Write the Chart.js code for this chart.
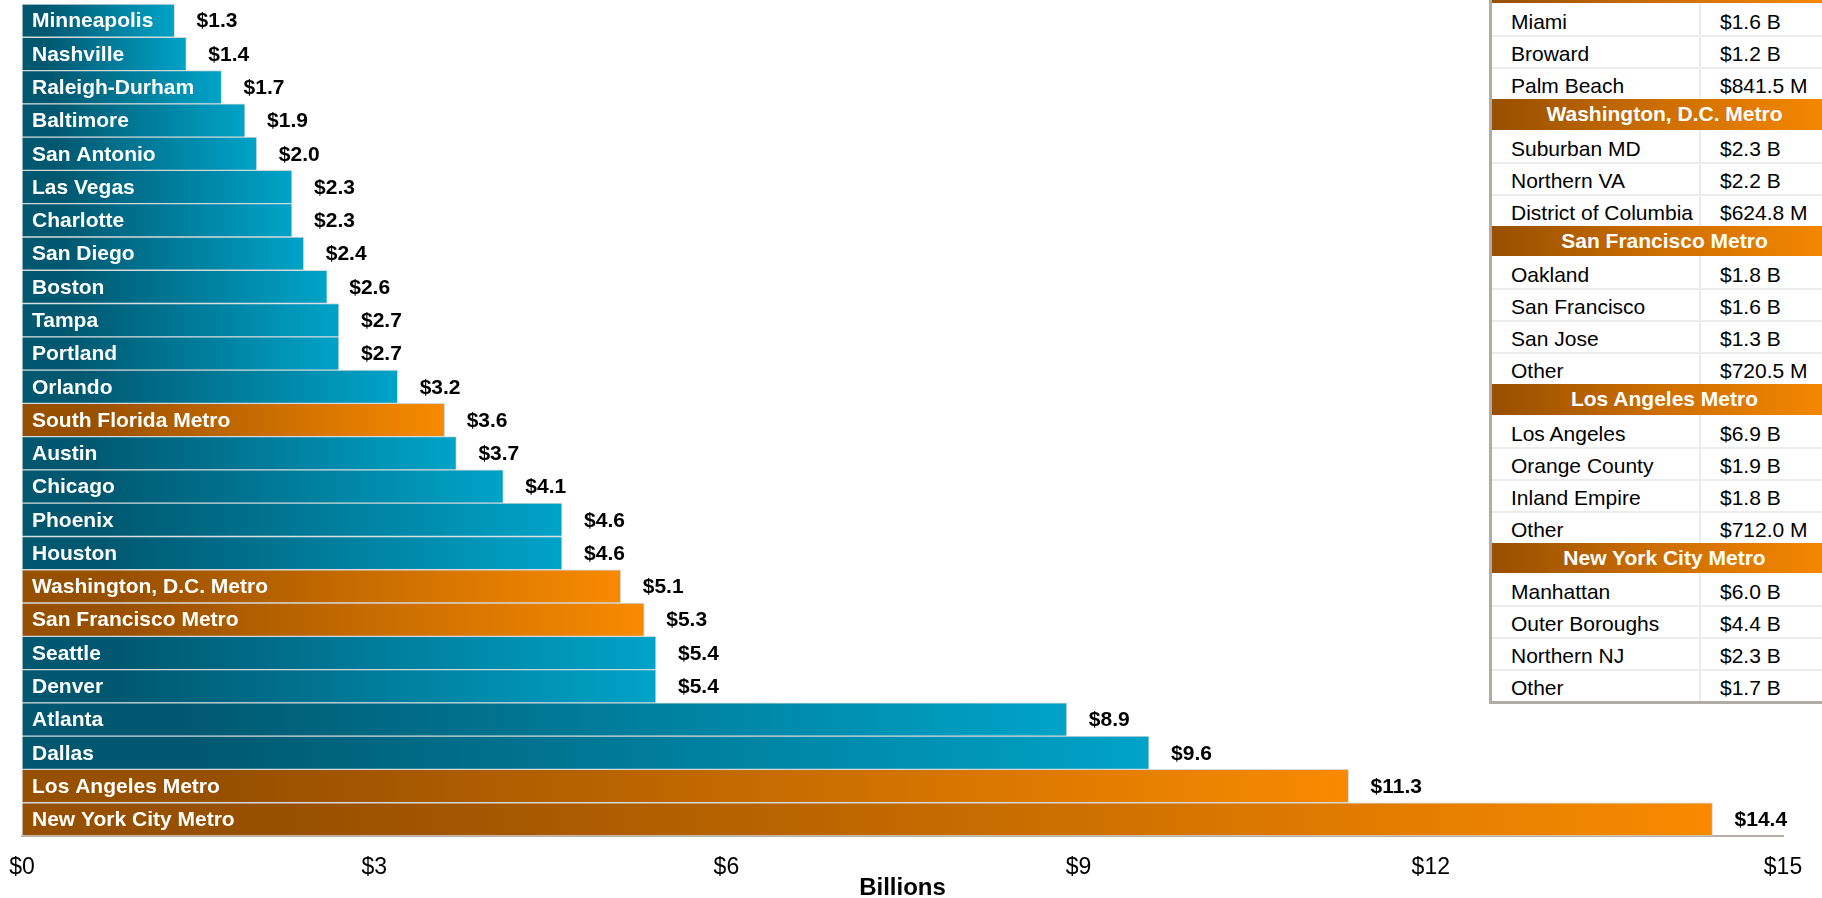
<!DOCTYPE html>
<html>
<head>
<meta charset="utf-8">
<script src="https://cdn.jsdelivr.net/npm/chart.js@4.4.1/dist/chart.umd.min.js"></script>
<style>
html,body{margin:0;padding:0;background:#fff;overflow:hidden;}
#wrap{position:relative;width:1822px;height:898px;overflow:hidden;font-family:"Liberation Sans",Arial,sans-serif;background:#fff;}
#chart{position:absolute;left:0;top:0;}
#tbl{position:absolute;left:1489px;top:-27.3px;width:345px;border-left:3px solid #b0aba3;border-bottom:3px solid #b0aba3;background:#fff;}
.hdr{height:30.5px;line-height:30px;text-align:center;color:#fff;font-weight:bold;font-size:21px;background:linear-gradient(to right,#974f00,#c96c00 45%,#f88900);white-space:nowrap;}
.row{height:32px;display:flex;font-size:21px;color:#000;box-shadow:inset 0 2px 0 #ececec;white-space:nowrap;}
.row.first{box-shadow:none;}
.c1{width:209px;box-sizing:border-box;padding-left:19px;border-right:2px solid #ececec;padding-top:7px;line-height:24px;}
.c2{padding-left:19px;padding-top:7px;line-height:24px;}
</style>
</head>
<body>
<div id="wrap">
  <canvas id="chart" width="1822" height="898"></canvas>
  <div id="tbl"></div>
</div>
<script>
// ---- Data ----
const categories = [
  'Minneapolis','Nashville','Raleigh-Durham','Baltimore','San Antonio','Las Vegas','Charlotte',
  'San Diego','Boston','Tampa','Portland','Orlando','South Florida Metro','Austin','Chicago',
  'Phoenix','Houston','Washington, D.C. Metro','San Francisco Metro','Seattle','Denver',
  'Atlanta','Dallas','Los Angeles Metro','New York City Metro'
];
const values = [
  1.3, 1.4, 1.7, 1.9, 2.0, 2.3, 2.3,
  2.4, 2.6, 2.7, 2.7, 3.2, 3.6, 3.7, 4.1,
  4.6, 4.6, 5.1, 5.3, 5.4, 5.4,
  8.9, 9.6, 11.3, 14.4
];
const xTickValues = [0, 3, 6, 9, 12, 15];
const axisTitle = 'Billions';

const southFloridaRows = [['Miami','$1.6 B'],['Broward','$1.2 B'],['Palm Beach','$841.5 M']];
const washingtonRows = [['Suburban MD','$2.3 B'],['Northern VA','$2.2 B'],['District of Columbia','$624.8 M']];
const sanFranciscoRows = [['Oakland','$1.8 B'],['San Francisco','$1.6 B'],['San Jose','$1.3 B'],['Other','$720.5 M']];
const losAngelesRows = [['Los Angeles','$6.9 B'],['Orange County','$1.9 B'],['Inland Empire','$1.8 B'],['Other','$712.0 M']];
const newYorkRows = [['Manhattan','$6.0 B'],['Outer Boroughs','$4.4 B'],['Northern NJ','$2.3 B'],['Other','$1.7 B']];
const metroTitles = ['South Florida Metro','Washington, D.C. Metro','San Francisco Metro','Los Angeles Metro','New York City Metro'];
const metroRows = [southFloridaRows, washingtonRows, sanFranciscoRows, losAngelesRows, newYorkRows];

// ---- Table ----
const tbl = document.getElementById('tbl');
metroTitles.forEach((t, gi) => {
  const h = document.createElement('div');
  h.className = 'hdr';
  h.textContent = t;
  tbl.appendChild(h);
  metroRows[gi].forEach((r, ri) => {
    const row = document.createElement('div');
    row.className = 'row' + (ri === 0 ? ' first' : '');
    const c1 = document.createElement('div'); c1.className = 'c1'; c1.textContent = r[0];
    const c2 = document.createElement('div'); c2.className = 'c2'; c2.textContent = r[1];
    row.appendChild(c1); row.appendChild(c2);
    tbl.appendChild(row);
  });
});

// ---- Chart ----
const FONT = '"Liberation Sans", Arial, sans-serif';
function barFill(c) {
  const chart = c.chart;
  const isMetro = metroTitles.includes(categories[c.dataIndex]);
  const dark = isMetro ? '#974f00' : '#005870';
  const light = isMetro ? '#f98a00' : '#00a3c8';
  if (!chart.chartArea || !chart.scales.x) return light;
  const x0 = chart.scales.x.getPixelForValue(0);
  const x1 = chart.scales.x.getPixelForValue(values[c.dataIndex]);
  if (!isFinite(x0) || !isFinite(x1) || x1 <= x0) return light;
  const g = chart.ctx.createLinearGradient(x0, 0, x1, 0);
  g.addColorStop(0, dark);
  g.addColorStop(0.15, dark);
  g.addColorStop(1, light);
  return g;
}

const barLabels = {
  id: 'barLabels',
  afterDatasetsDraw(chart) {
    const { ctx, chartArea } = chart;
    const meta = chart.getDatasetMeta(0);
    ctx.save();
    ctx.font = 'bold 21px ' + FONT;
    ctx.textBaseline = 'middle';
    ctx.textAlign = 'left';
    meta.data.forEach((bar, i) => {
      ctx.fillStyle = '#ffffff';
      ctx.fillText(categories[i], chartArea.left + 10, bar.y + 1);
      ctx.fillStyle = '#000000';
      ctx.fillText('$' + values[i].toFixed(1), bar.x + 22, bar.y + 1);
    });
    ctx.restore();
  }
};

new Chart(document.getElementById('chart'), {
  type: 'bar',
  data: {
    labels: categories,
    datasets: [{
      data: values,
      backgroundColor: barFill,
      borderColor: '#d3d8da',
      borderWidth: 1,
      borderSkipped: false,
      barPercentage: 1,
      categoryPercentage: 1
    }]
  },
  plugins: [barLabels],
  options: {
    indexAxis: 'y',
    responsive: false,
    animation: false,
    devicePixelRatio: 1,
    layout: { padding: { left: 22, right: 39, top: 4, bottom: 0 } },
    plugins: { legend: { display: false }, tooltip: { enabled: false } },
    scales: {
      y: { display: false },
      x: {
        min: 0, max: 15,
        afterBuildTicks: (s) => { s.ticks = xTickValues.map(v => ({ value: v })); },
        afterFit: (s) => { s.height = 62; },
        grid: { display: false, drawTicks: true, tickLength: 18 },
        border: { display: true, color: '#b3aea6', width: 2 },
        ticks: {
          padding: 0,
          color: '#000',
          font: { family: FONT, size: 23 },
          callback: (v) => '$' + v,
          autoSkip: false,
          maxRotation: 0
        },
        title: {
          display: true,
          text: axisTitle,
          color: '#000',
          font: { family: FONT, size: 24, weight: 'bold', lineHeight: 0.8 },
          padding: { top: 0, bottom: 0 }
        }
      }
    }
  }
});
</script>
</body>
</html>
